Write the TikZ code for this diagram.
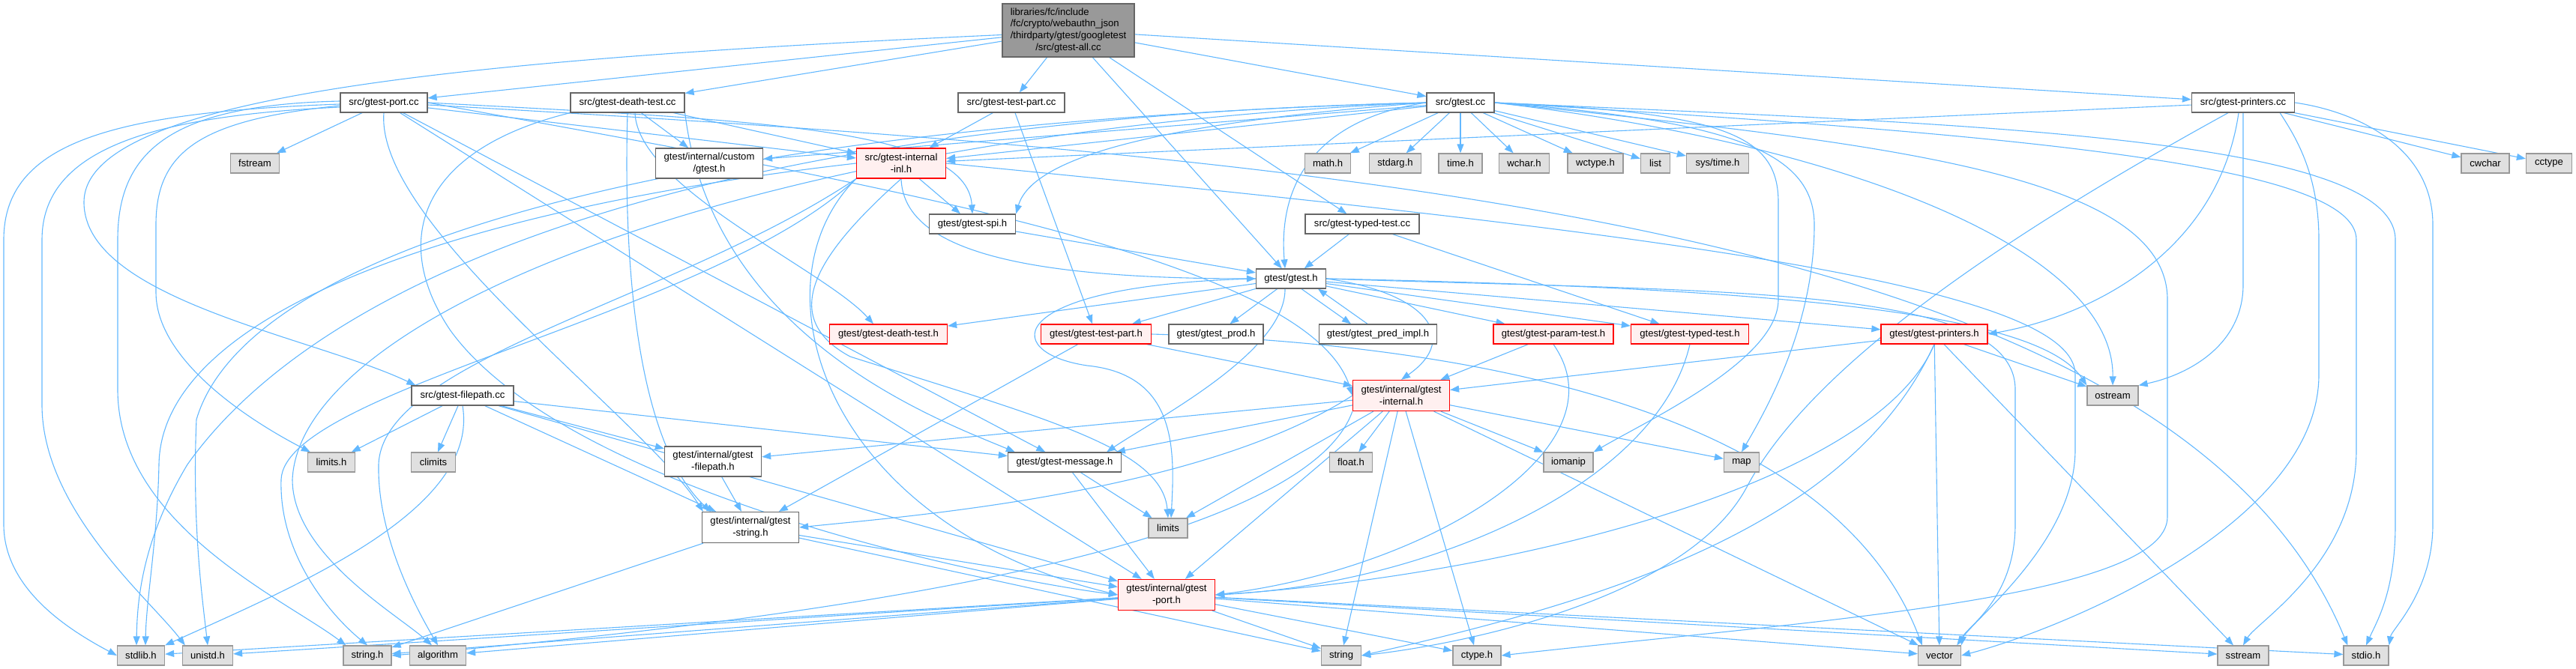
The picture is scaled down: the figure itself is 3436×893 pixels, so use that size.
\documentclass[tikz,border=0pt]{standalone}
\usepackage{fontspec}
\setmainfont{Liberation Sans}
\usetikzlibrary{arrows.meta}
\pgfdeclarelayer{background}
\pgfsetlayers{background,main}
\definecolor{edgec}{HTML}{63B8FF}
\definecolor{hidfill}{HTML}{FFF0F0}
\begin{document}
\begin{tikzpicture}[x=1pt,y=-1pt,
 every node/.style={font=\fontsize{13.1}{15.6}\selectfont, inner sep=0pt, align=center, rectangle, minimum height=26pt, line width=1.3pt},
 nb/.style={draw=black!60, fill=white},
 sys/.style={draw=black!40, fill=black!12},
 hid/.style={draw=red, fill=hidfill},
 rt/.style={draw=black!60, fill=black!40},
 ed/.style={draw=edgec, line width=1.1pt, -{Triangle[length=12pt,width=9pt]}},
]
\useasboundingbox (0,0) rectangle (3436,893);

% ---------- nodes ----------
\node[rt, minimum width=176pt, minimum height=71pt] (root) at (1425,40.5) {\begin{tabular}{@{}l@{}}libraries/fc/include\\/fc/crypto/webauthn\_json\\/thirdparty/gtest/googletest\\\multicolumn{1}{@{}c@{}}{/src/gtest-all.cc}\end{tabular}};
\node[nb, minimum width=116pt] (portcc) at (512,137) {src/gtest-port.cc};
\node[nb, minimum width=152pt] (deathcc) at (837,137) {src/gtest-death-test.cc};
\node[nb, minimum width=142pt] (testpartcc) at (1349,137) {src/gtest-test-part.cc};
\node[nb, minimum width=90pt] (gtestcc) at (1948,137) {src/gtest.cc};
\node[nb, minimum width=137pt] (printerscc) at (2992,137) {src/gtest-printers.cc};
\node[sys, minimum width=65pt] (fstream) at (340,218) {fstream};
\node[nb, minimum width=143pt, minimum height=40pt] (custom) at (946,218) {gtest/internal/custom\\/gtest.h};
\node[hid, minimum width=119pt, minimum height=40pt] (inl) at (1202,218) {src/gtest-internal\\-inl.h};
\node[nb, minimum width=115pt] (spi) at (1297,299) {gtest/gtest-spi.h};
\node[sys, minimum width=61pt] (math) at (1771,218) {math.h};
\node[sys, minimum width=69pt] (stdarg) at (1861,218) {stdarg.h};
\node[sys, minimum width=58pt] (time) at (1948,218) {time.h};
\node[sys, minimum width=67pt] (wchar) at (2033,218) {wchar.h};
\node[sys, minimum width=74pt] (wctype) at (2128,218) {wctype.h};
\node[sys, minimum width=39pt] (list) at (2208,218) {list};
\node[sys, minimum width=83pt] (systime) at (2291,218) {sys/time.h};
\node[sys, minimum width=64pt] (cwchar) at (3315,218) {cwchar};
\node[sys, minimum width=61pt] (cctype) at (3400,218) {cctype};
\node[nb, minimum width=152pt] (typedcc) at (1817,299) {src/gtest-typed-test.cc};
\node[nb, minimum width=93pt] (gtesth) at (1722,372) {gtest/gtest.h};
\node[hid, minimum width=157pt] (deathh) at (1185,446) {gtest/gtest-death-test.h};
\node[hid, minimum width=147pt] (testparth) at (1462,446) {gtest/gtest-test-part.h};
\node[nb, minimum width=126pt] (prod) at (1622,446) {gtest/gtest\_prod.h};
\node[nb, minimum width=157pt] (pred) at (1838,446) {gtest/gtest\_pred\_impl.h};
\node[hid, minimum width=160pt] (param) at (2072,446) {gtest/gtest-param-test.h};
\node[hid, minimum width=157pt] (typedh) at (2254,446) {gtest/gtest-typed-test.h};
\node[hid, minimum width=142pt] (printersh) at (2580,446) {gtest/gtest-printers.h};
\node[nb, minimum width=136pt] (filepathcc) at (617,528) {src/gtest-filepath.cc};
\node[sys, minimum width=63pt] (limitsh) at (442,617) {limits.h};
\node[sys, minimum width=59pt] (climits) at (578,617) {climits};
\node[nb, minimum width=129pt, minimum height=40pt] (filepathh) at (951,616) {gtest/internal/gtest\\-filepath.h};
\node[nb, minimum width=151pt] (message) at (1420,617) {gtest/gtest-message.h};
\node[nb, minimum width=129pt, minimum height=41pt] (gstring) at (1001,704) {gtest/internal/gtest\\-string.h};
\node[sys, minimum width=52pt] (limits) at (1558,705) {limits};
\node[hid, minimum width=129pt, minimum height=41pt] (gport) at (1556,794) {gtest/internal/gtest\\-port.h};
\node[hid, minimum width=129pt, minimum height=41pt] (internal) at (1869,528) {gtest/internal/gtest\\-internal.h};
\node[sys, minimum width=57pt] (floath) at (1802,617) {float.h};
\node[sys, minimum width=66pt] (iomanip) at (2092,617) {iomanip};
\node[sys, minimum width=47pt] (map) at (2323,617) {map};
\node[sys, minimum width=68pt] (ostream) at (2818,528) {ostream};
\node[sys, minimum width=63pt] (stdlib) at (188,875) {stdlib.h};
\node[sys, minimum width=67pt] (unistd) at (277,875) {unistd.h};
\node[sys, minimum width=64pt] (stringh) at (490,875) {string.h};
\node[sys, minimum width=75pt] (algorithm) at (584,875) {algorithm};
\node[sys, minimum width=53pt] (string) at (1789,875) {string};
\node[sys, minimum width=64pt] (ctype) at (1970,875) {ctype.h};
\node[sys, minimum width=57pt] (vector) at (2587,875) {vector};
\node[sys, minimum width=68pt] (sstream) at (2992,875) {sstream};
\node[sys, minimum width=60pt] (stdio) at (3156,875) {stdio.h};

% ---------- edges ----------
\begin{pgfonlayer}{background}
% root
\draw[ed] (root) -- (portcc);
\draw[ed] (root) -- (deathcc);
\draw[ed] (root) -- (testpartcc);
\draw[ed] (root) -- (gtestcc);
\draw[ed] (root) -- (printerscc);
\draw[ed] (root) -- (typedcc);
\draw[ed] (root) -- (gtesth);
\draw[ed] ([yshift=-6pt]root.west) .. controls (600,80) and (112,130) .. (112,270) .. controls (112,400) and (420,450) .. ([xshift=6pt]filepathcc.north west);
% port.cc
\draw[ed] (portcc) -- (fstream);
\draw[ed] ([yshift=-4pt]portcc.west) .. controls (270,160) and (208,200) .. (208,300) -- (208,390) .. controls (208,480) and (330,560) .. ([xshift=4pt]limitsh.north west);
\draw[ed] ([yshift=-2pt]portcc.west) .. controls (150,150) and (5,190) .. (5,320) -- (5,700) .. controls (5,790) and (100,845) .. (stdlib.west);
\draw[ed] ([yshift=-6pt]portcc.west) .. controls (200,155) and (56,200) .. (56,320) -- (56,540) .. controls (56,680) and (200,800) .. ([xshift=4pt]unistd.north west);
\draw[ed] ([yshift=2pt]portcc.west) .. controls (230,140) and (157,200) .. (157,320) -- (157,520) .. controls (157,700) and (380,800) .. ([xshift=4pt]stringh.north west);
\draw[ed] (portcc.east) .. controls (1000,160) and (1290,170) .. (spi.north);
\draw[ed] (portcc) -- (inl);
\draw[ed] (portcc.east) .. controls (1200,250) and (1750,350) .. (internal.west);
\draw[ed] (portcc) -- (message);
\draw[ed] (portcc.south) .. controls (500,300) and (860,560) .. ([xshift=2pt]gstring.north west);
\draw[ed] (portcc) -- (gport);
\draw[ed] ([yshift=-3pt]portcc.east) .. controls (1800,210) and (2900,300) .. ([xshift=6pt]stdio.north west);
% death-test.cc
\draw[ed] (deathcc) -- (custom);
\draw[ed] (deathcc) -- (inl);
\draw[ed] ([xshift=10pt]deathcc.south) .. controls (850,250) and (1100,360) .. ([xshift=-20pt]deathh.north);
\draw[ed] (deathcc.south east) .. controls (950,450) and (1250,560) .. ([xshift=10pt]message.north west);
\draw[ed] (deathcc.south) .. controls (830,400) and (860,600) .. ([xshift=12pt]gstring.north west);
\draw[ed] (deathcc.south west) .. controls (560,200) and (520,320) .. (600,440) .. controls (750,650) and (1300,770) .. (gport.west);
% test-part.cc
\draw[ed] (testpartcc) -- (inl);
\draw[ed] (testpartcc) -- (testparth);
% gtest.cc
\draw[ed] (gtestcc) -- (custom);
\draw[ed] (gtestcc) -- (inl);
\draw[ed] (gtestcc.west) .. controls (1600,160) and (1380,200) .. (spi.north east);
\draw[ed] (gtestcc.west) .. controls (1750,160) and (1705,250) .. ([xshift=-8pt]gtesth.north);
\draw[ed] (gtestcc) -- (math);
\draw[ed] (gtestcc) -- (stdarg);
\draw[ed] (gtestcc) -- (time);
\draw[ed] (gtestcc) -- (wchar);
\draw[ed] (gtestcc) -- (wctype);
\draw[ed] (gtestcc) -- (list);
\draw[ed] (gtestcc) -- (systime);
\draw[ed] (gtestcc.west) .. controls (900,160) and (420,380) .. (250,620) .. controls (190,720) and (183,800) .. ([xshift=-6pt]stdlib.north);
\draw[ed] (gtestcc.west) .. controls (900,165) and (330,330) .. (262,560) .. controls (256,700) and (270,800) .. (unistd.north);
\draw[ed] (gtestcc.west) .. controls (1000,175) and (400,420) .. (390,640) .. controls (390,740) and (530,820) .. ([xshift=-8pt]algorithm.north);
\draw[ed] (gtestcc.east) .. controls (2300,150) and (2372,180) .. (2372,270) -- (2372,400) .. controls (2372,480) and (2200,560) .. (iomanip.north east);
\draw[ed] (gtestcc.east) .. controls (2300,160) and (2420,200) .. (2420,300) .. controls (2420,430) and (2360,540) .. (map.north);
\draw[ed] (gtestcc.east) .. controls (2450,190) and (2820,330) .. (ostream.north);
\draw[ed] (gtestcc.east) .. controls (2700,180) and (3143,220) .. (3143,320) -- (3143,600) .. controls (3143,750) and (3010,830) .. (sstream.north);
\draw[ed] (gtestcc.east) .. controls (2600,165) and (3195,180) .. (3195,320) -- (3195,700) .. controls (3195,790) and (3170,830) .. (stdio.north);
\draw[ed] (gtestcc.east) .. controls (2500,190) and (2891,230) .. (2891,400) -- (2891,690) .. controls (2891,800) and (2400,830) .. (ctype.east);
% printers.cc
\draw[ed] (printerscc) -- (inl);
\draw[ed] ([xshift=-6pt]printerscc.south) .. controls (2960,330) and (2800,420) .. (printersh.east);
\draw[ed] (printerscc.south) -- (2992,380) .. controls (2992,460) and (2920,500) .. (ostream.north east);
\draw[ed] (printerscc) -- (cwchar);
\draw[ed] (printerscc) -- (cctype);
\draw[ed] (printerscc.east) .. controls (3150,150) and (3245,200) .. (3245,300) -- (3245,700) .. controls (3245,790) and (3190,840) .. (stdio.north east);
\draw[ed] ([xshift=-20pt]printerscc.south east) .. controls (3060,180) and (3093,230) .. (3093,320) -- (3093,500) .. controls (3093,700) and (2750,840) .. (vector.east);
\draw[ed] ([xshift=-20pt]printerscc.south) .. controls (2700,300) and (2420,480) .. (2330,650) .. controls (2250,800) and (1950,860) .. (string.east);
% typed-test.cc
\draw[ed] (typedcc) -- (gtesth);
\draw[ed] (typedcc) -- (typedh);
% gtest.h
\draw[ed] (gtesth) -- (deathh);
\draw[ed] (gtesth) -- (testparth);
\draw[ed] (gtesth) -- (prod);
\draw[ed] ([xshift=14pt]gtesth.south) -- ([xshift=-36pt]pred.north);
\draw[ed] ([xshift=-14pt]pred.north) -- ([xshift=36pt]gtesth.south);
\draw[ed] (gtesth) -- (param);
\draw[ed] (gtesth) -- (typedh);
\draw[ed] (gtesth) -- (printersh);
\draw[ed] (gtesth.east) .. controls (1900,390) and (1950,450) .. (internal.north);
\draw[ed] ([xshift=-8pt]gtesth.south) .. controls (1715,470) and (1540,560) .. ([xshift=-20pt]message.north east);
\draw[ed] (gtesth.west) .. controls (1340,380) and (1330,470) .. (1450,488) .. controls (1570,500) and (1567,600) .. ([xshift=4pt]limits.north);
\draw[ed] (gtesth.east) .. controls (2400,385) and (2720,420) .. (ostream.north west);
\draw[ed] (gtesth.east) .. controls (2300,390) and (2688,380) .. (2688,520) -- (2688,700) .. controls (2688,800) and (2620,840) .. (vector.north east);
\draw[ed] (spi) -- (gtesth);
% filepath.cc
\draw[ed] (filepathcc) -- (limitsh);
\draw[ed] (filepathcc) -- (climits);
\draw[ed] (filepathcc.south) .. controls (640,680) and (400,780) .. (stdlib.north east);
\draw[ed] (filepathcc) -- (filepathh);
\draw[ed] (filepathcc) -- (message);
\draw[ed] (filepathcc) -- (gstring);
\draw[ed] (filepathcc) -- (gport);
\draw[ed] (filepathh) -- (gstring);
% internal-inl.h
\draw[ed] (inl) -- (spi);
\draw[ed] (inl.south) .. controls (1205,330) and (1350,372) .. (gtesth.west);
\draw[ed] (inl.west) .. controls (600,280) and (215,420) .. (212,620) .. controls (210,720) and (195,800) .. ([xshift=6pt]stdlib.north);
\draw[ed] (inl.south west) .. controls (900,400) and (510,480) .. (505,620) .. controls (503,720) and (560,820) .. (algorithm.north);
\draw[ed] (inl.south west) .. controls (1000,380) and (1100,700) .. (gport.west);
\draw[ed] (inl.east) .. controls (2200,310) and (2768,380) .. (2768,500) -- (2768,600) .. controls (2768,720) and (2640,820) .. ([xshift=-6pt]vector.north east);
\draw[ed] (inl.south west) .. controls (950,420) and (380,520) .. (375,640) .. controls (372,740) and (440,820) .. (stringh.north);
\draw[ed] (inl.south) .. controls (1100,330) and (1030,420) .. (1134,476) .. controls (1400,560) and (1550,600) .. (limits.north);
% internal.h
\draw[ed] (internal) -- (filepathh);
\draw[ed] (internal) -- (message);
\draw[ed] (internal.west) .. controls (1600,660) and (1200,690) .. (gstring.east);
\draw[ed] (internal) -- (gport);
\draw[ed] (internal) -- (limits);
\draw[ed] (internal) -- (floath);
\draw[ed] (internal) -- (iomanip);
\draw[ed] (internal) -- (map);
\draw[ed] (internal) -- (string);
\draw[ed] (internal) -- (ctype);
\draw[ed] (internal) -- (vector);
\draw[ed] (internal.south west) .. controls (1750,700) and (1300,810) .. (stringh.east);
% message.h
\draw[ed] (message) -- (limits);
\draw[ed] (message) -- (gport);
% string.h (gtest)
\draw[ed] (gstring) -- (gport);
\draw[ed] (gstring) -- (stringh);
\draw[ed] (gstring) -- (string);
% port.h
\draw[ed] (gport) -- (stdlib);
\draw[ed] (gport) -- (unistd);
\draw[ed] (gport) -- (stringh);
\draw[ed] (gport) -- (algorithm);
\draw[ed] (gport) -- (string);
\draw[ed] (gport) -- (ctype);
\draw[ed] (gport) -- (vector);
\draw[ed] (gport) -- (sstream);
\draw[ed] (gport) -- (stdio);
% test-part.h
\draw[ed] (testparth) -- (gstring);
\draw[ed] (testparth) -- (internal);
\draw[ed] (testparth.east) .. controls (2000,460) and (2450,560) .. ([xshift=6pt]vector.north west);
% param-test.h, typed-test.h
\draw[ed] (param) -- (internal);
\draw[ed] (param.south) .. controls (2170,600) and (1900,760) .. (gport.east);
\draw[ed] (typedh.south) .. controls (2210,650) and (1900,780) .. (gport.east);
% printers.h
\draw[ed] (printersh) -- (internal);
\draw[ed] (printersh) -- (ostream);
\draw[ed] (printersh) -- (vector);
\draw[ed] (printersh) -- (sstream);
\draw[ed] (printersh.south) .. controls (2470,700) and (2150,800) .. (string.east);
\draw[ed] (printersh.south) .. controls (2500,650) and (2000,770) .. (gport.east);
\end{pgfonlayer}
\end{tikzpicture}
\end{document}
